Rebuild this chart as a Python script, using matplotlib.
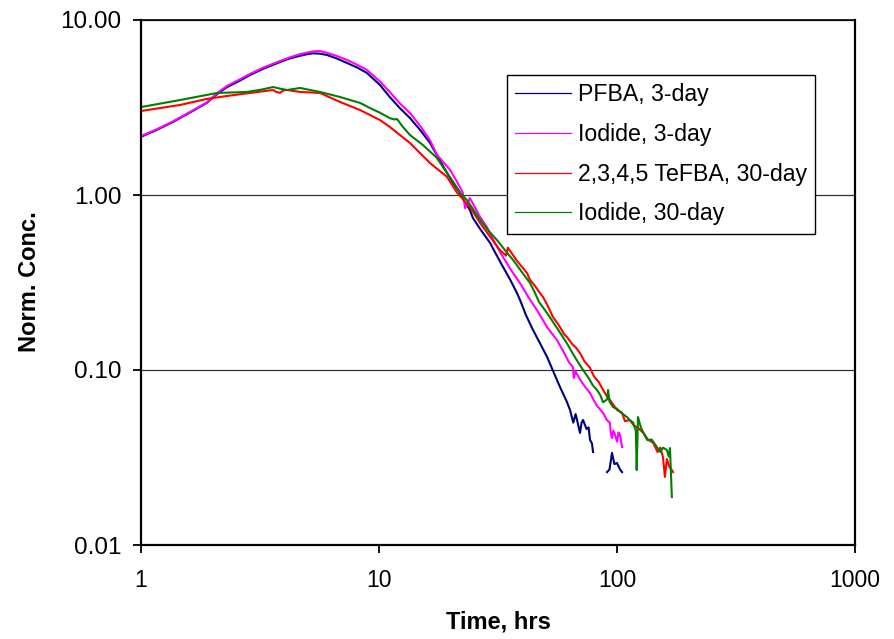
import numpy as np
import matplotlib
matplotlib.use("Agg")
import matplotlib.pyplot as plt
from matplotlib.ticker import FixedLocator, FixedFormatter, NullLocator

series_names = ["PFBA, 3-day", "Iodide, 3-day", "2,3,4,5 TeFBA, 30-day", "Iodide, 30-day"]
series_colors = ["#000080", "#FF00FF", "#FF0000", "#008000"]

pfba_t = [1.00, 1.16, 1.36, 1.62, 1.89, 2.09, 2.30, 2.60, 2.87, 3.30, 3.84, 4.20, 4.66, 5.00, 5.28,
          5.65, 6.05, 6.60, 7.34, 8.10, 8.90, 10.1, 11.1, 12.2, 13.5, 14.9, 16.4, 17.8, 19.3, 20.5,
          21.9, 23.0, 24.1, 24.8, 26.8, 29.3, 31.0, 33.2, 35.5, 38.0, 39.1, 41.5, 44.4, 47.5, 50.8,
          54.0, 57.6, 60.0, 61.5, 63.5, 65.5, 67.0, 67.9, 69.9, 71.0, 72.0, 74.5, 76.0, 77.0, 78.5,
          79.3, np.nan, 90.8, 93.0, 95.3, 97.5, 100, 103, 105]
pfba_c = [2.15, 2.35, 2.61, 2.98, 3.36, 3.78, 4.14, 4.50, 4.85, 5.30, 5.75, 6.02, 6.25, 6.38, 6.45,
          6.42, 6.31, 6.05, 5.68, 5.35, 4.98, 4.25, 3.63, 3.15, 2.75, 2.35, 1.98, 1.62, 1.34, 1.17,
          1.03, 0.90, 0.821, 0.74, 0.63, 0.532, 0.46, 0.388, 0.33, 0.275, 0.252, 0.205, 0.169, 0.142, 0.119,
          0.098, 0.080, 0.071, 0.066, 0.059, 0.050, 0.056, 0.052, 0.0437, 0.050, 0.0518, 0.046, 0.047, 0.040, 0.038,
          0.034, np.nan, 0.0261, 0.027, 0.0336, 0.029, 0.0294, 0.027, 0.0261]

iod3_t = [1.00, 1.16, 1.36, 1.62, 1.89, 2.09, 2.30, 2.60, 2.87, 3.30, 3.84, 4.20, 4.66, 5.28, 5.65,
          6.05, 6.60, 7.34, 8.10, 8.90, 10.1, 11.1, 12.2, 13.5, 15.0, 16.4, 17.5, 19.9, 21.2, 22.5,
          23.0, 24.1, 26.6, 28.4, 30.5, 33.2, 36.0, 39.1, 42.5, 46.1, 50.8, 56.0, 60.0, 63.0, 65.3,
          65.8, 67.0, 70.0, 73.5, 77.0, 82.0, 87.4, 90.5, 93.4, 94.3, 95.3, 96.5, 98.5, 100, 101.5,
          103, 105]
iod3_c = [2.17, 2.37, 2.63, 3.00, 3.38, 3.83, 4.20, 4.58, 4.92, 5.38, 5.83, 6.10, 6.38, 6.62, 6.65,
          6.50, 6.25, 5.91, 5.55, 5.18, 4.45, 3.88, 3.35, 2.94, 2.45, 2.05, 1.70, 1.39, 1.20, 1.03,
          0.84, 0.96, 0.749, 0.656, 0.54, 0.442, 0.37, 0.314, 0.26, 0.220, 0.176, 0.148, 0.125, 0.11, 0.104,
          0.090, 0.098, 0.088, 0.080, 0.0739, 0.063, 0.0568, 0.052, 0.0498, 0.043, 0.0409, 0.045, 0.042, 0.039, 0.044,
          0.0425, 0.0363]

tefba_t = [1.00, 1.46, 1.89, 2.30, 2.87, 3.59, 3.70, 3.84, 3.95, 4.11, 4.66, 5.65, 6.86, 8.32, 10.1,
           11.1, 13.5, 16.4, 19.3, 21.3, 24.1, 26.6, 29.5, 32.2, 34.2, 34.8, 38.0, 41.9, 43.1, 45.0,
           47.5, 48.9, 51.0, 53.8, 57.0, 60.0, 61.7, 65.0, 67.0, 69.9, 73.0, 77.0, 80.0, 84.0, 87.4,
           90.0, 93.0, 100, 105, 108, 113, 118, 122, 129, 135, 142, 148, 152, 156, 159,
           162, 166, 170, 172]
tefba_c = [3.02, 3.27, 3.54, 3.68, 3.83, 3.98, 3.88, 3.83, 3.95, 3.98, 3.88, 3.83, 3.40, 3.06, 2.68,
           2.45, 1.98, 1.52, 1.27, 1.03, 0.854, 0.692, 0.57, 0.485, 0.45, 0.50, 0.42, 0.358, 0.327, 0.305,
           0.275, 0.261, 0.235, 0.201, 0.18, 0.16, 0.154, 0.14, 0.135, 0.125, 0.112, 0.103, 0.092, 0.085, 0.0769,
           0.072, 0.068, 0.0591, 0.057, 0.051, 0.0518, 0.048, 0.047, 0.0437, 0.040, 0.0383, 0.034, 0.036, 0.0318, 0.0245,
           0.031, 0.028, 0.0268, 0.0261]

iod30_t = [1.00, 1.46, 2.09, 2.79, 3.20, 3.59, 3.85, 4.11, 4.66, 5.65, 6.86, 8.32, 9.17, 10.1, 11.1,
           11.6, 11.9, 12.6, 13.5, 15.3, 17.5, 19.0, 20.5, 21.9, 23.4, 25.0, 26.6, 29.0, 31.3, 34.0,
           36.6, 40.0, 43.1, 45.0, 47.0, 50.8, 55.0, 59.3, 62.0, 65.0, 68.0, 72.0, 76.0, 79.0, 82.4,
           85.0, 87.4, 91.0, 91.7, 93.0, 96.2, 100, 104, 110, 113, 117, 120, 121, 122.5, 126,
           130, 134, 140, 147, 152, 156, 162, 165, 167, 170]
iod30_c = [3.18, 3.49, 3.83, 3.88, 4.00, 4.14, 4.05, 3.98, 4.09, 3.88, 3.63, 3.36, 3.14, 2.95, 2.75,
           2.70, 2.72, 2.45, 2.20, 1.93, 1.63, 1.38, 1.19, 1.03, 0.936, 0.82, 0.72, 0.62, 0.553, 0.48,
           0.425, 0.36, 0.314, 0.28, 0.245, 0.212, 0.18, 0.154, 0.14, 0.125, 0.113, 0.100, 0.090, 0.082, 0.0769,
           0.072, 0.0654, 0.068, 0.0769, 0.066, 0.0614, 0.060, 0.057, 0.0539, 0.0518, 0.05, 0.045, 0.0268, 0.0539, 0.047,
           0.043, 0.0398, 0.040, 0.0363, 0.034, 0.036, 0.0349, 0.032, 0.0358, 0.0188]

x_ticks = [1, 10, 100, 1000]
x_tick_labels = ["1", "10", "100", "1000"]
y_ticks = [0.01, 0.1, 1, 10]
y_tick_labels = ["0.01", "0.10", "1.00", "10.00"]

plt.rcParams["font.family"] = ["Liberation Sans", "DejaVu Sans"]

W, H = 894, 639
fig = plt.figure(figsize=(W / 100, H / 100), dpi=100)
ax = fig.add_axes([141 / W, 1 - 545 / H, (855 - 141) / W, (545 - 20) / H])

data = [(pfba_t, pfba_c), (iod3_t, iod3_c), (tefba_t, tefba_c), (iod30_t, iod30_c)]
for (t, c), name, col in zip(data, series_names, series_colors):
    ax.plot(t, c, color=col, lw=1.5, label=name)

ax.set_xscale("log")
ax.set_yscale("log")
ax.set_xlim(1, 1000)
ax.set_ylim(0.01, 10)
ax.xaxis.set_major_locator(FixedLocator(x_ticks))
ax.xaxis.set_major_formatter(FixedFormatter(x_tick_labels))
ax.yaxis.set_major_locator(FixedLocator(y_ticks))
ax.yaxis.set_major_formatter(FixedFormatter(y_tick_labels))
ax.xaxis.set_minor_locator(NullLocator())
ax.yaxis.set_minor_locator(NullLocator())

ax.yaxis.grid(True, color="#333333", lw=0.9)
ax.set_axisbelow(True)
for s in ax.spines.values():
    s.set_color("black")
    s.set_linewidth(1.6)
ax.spines["top"].set_linewidth(1.2)

ax.tick_params(axis="both", which="major", direction="out", length=6, width=1.3, color="black")
ax.tick_params(axis="y", labelsize=17.5, pad=8)
ax.tick_params(axis="x", labelsize=16.5, pad=11)

fig.text(30 / W, 1 - 282 / H, "Norm. Conc.", rotation=90, ha="center", va="center",
         fontsize=17, fontweight="bold")
fig.text(498 / W, 1 - 622 / H, "Time, hrs", ha="center", va="center",
         fontsize=17, fontweight="bold")

leg = ax.legend(loc="upper left", bbox_to_anchor=((507 - 141) / 714, (545 - 75) / 525),
                borderaxespad=0, fontsize=16.7, frameon=True, fancybox=False, framealpha=1,
                edgecolor="black", handlelength=2.4, handletextpad=0.3, labelspacing=0.72,
                borderpad=0.36)
leg.get_frame().set_linewidth(1.0)
for ln in leg.get_lines():
    ln.set_linewidth(0.9)

fig.savefig("out.png", dpi=100)
